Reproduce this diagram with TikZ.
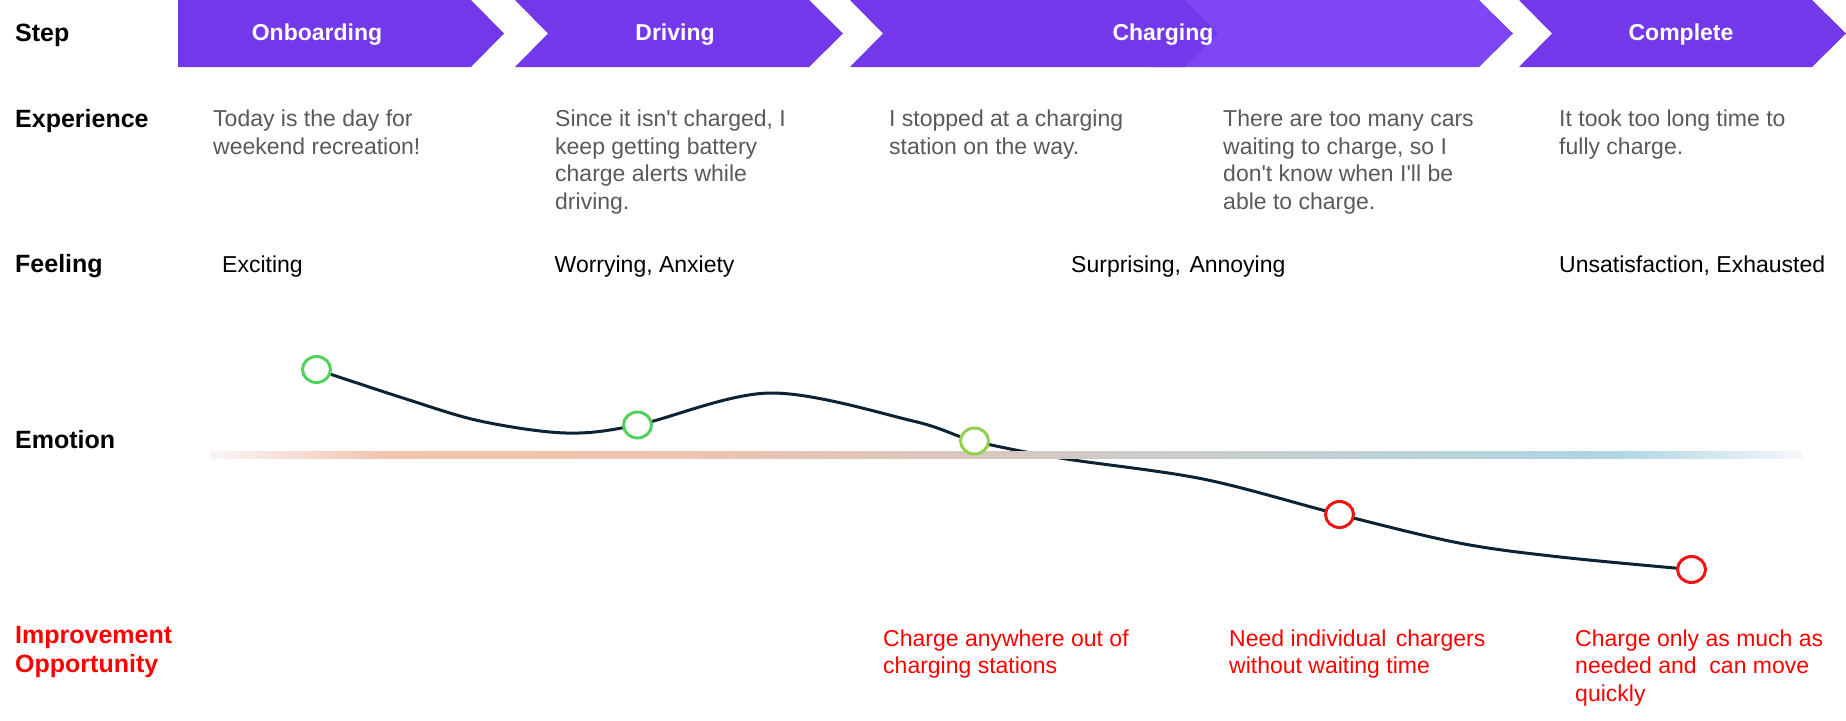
\documentclass[tikz,border=0pt]{standalone}
\usepackage{fontspec}
\setmainfont{Liberation Sans}[Ligatures=TeXOff]
\usetikzlibrary{shapes.geometric,backgrounds}
\definecolor{chev}{RGB}{115,56,234}
\definecolor{chevl}{RGB}{126,70,245}
\definecolor{exgray}{RGB}{89,89,89}
\definecolor{curvec}{RGB}{13,34,51}
\definecolor{gA}{RGB}{80,210,92}
\definecolor{gB}{RGB}{146,208,80}
\definecolor{rC}{RGB}{240,20,20}
\definecolor{impred}{RGB}{255,0,0}
\definecolor{barA}{RGB}{250,244,246}
\definecolor{barB}{RGB}{242,196,174}
\definecolor{barC}{RGB}{238,195,176}
\definecolor{barD}{RGB}{220,198,188}
\definecolor{barE}{RGB}{204,203,200}
\definecolor{barF}{RGB}{190,208,212}
\definecolor{barG}{RGB}{173,213,227}
\definecolor{barH}{RGB}{214,233,242}
\definecolor{barI}{RGB}{246,246,252}
\pgfdeclarehorizontalshading{emobar}{100bp}{color(0bp)=(barA); color(25bp)=(barA); color(30.5bp)=(barB); color(40bp)=(barC); color(47.5bp)=(barD); color(54bp)=(barE); color(61bp)=(barF); color(69bp)=(barG); color(72.5bp)=(barH); color(75bp)=(barI); color(100bp)=(barI)}
\newcommand{\fl}{\rule{0pt}{20pt}}
\begin{document}
\begin{tikzpicture}[x=1pt,y=-1pt,
  lbl/.style={anchor=base west,inner sep=0pt,font=\fontsize{25}{29}\selectfont\bfseries},
  steptxt/.style={anchor=base,inner sep=0pt,text=white,font=\fontsize{23}{28}\selectfont\bfseries},
  txt/.style={anchor=north west,inner sep=0pt,align=left,font=\fontsize{23}{27.5}\selectfont},
  extxt/.style={txt,text=exgray},
  imptxt/.style={txt,text=impred},
  dot/.style={ellipse,draw,fill=white,line width=3pt,minimum width=28pt,minimum height=26pt,inner sep=0pt}]
\useasboundingbox (0,0) rectangle (1846,720);
% chevrons
\fill[chevl] (1150,0) -- (1479,0) -- (1513,33.5) -- (1479,67) -- (1150,67) -- cycle;
\fill[chev] (178,0) -- (471,0) -- (504,33.5) -- (471,67) -- (178,67) -- cycle;
\fill[chev] (515,0) -- (809,0) -- (843,33.5) -- (809,67) -- (515,67) -- (548,33.5) -- cycle;
\fill[chev] (850,0) -- (1185,0) -- (1218,33.5) -- (1185,67) -- (850,67) -- (883,33.5) -- cycle;
\fill[chev] (1519,0) -- (1812,0) -- (1846,33.5) -- (1812,67) -- (1519,67) -- (1552,33.5) -- cycle;
\node[steptxt] (s1) at (317,40) {Onboarding};
\node[steptxt] (s2) at (675,40) {Driving};
\node[steptxt] (s3) at (1163,40) {Charging};
\node[steptxt] (s4) at (1681,40) {Complete};
% row labels
\node[lbl] (lstep) at (15,41) {Step};
\node[lbl] (lexp) at (15,127) {Experience};
\node[lbl] (lfeel) at (15,272) {Feeling};
\node[lbl] (lemo) at (15,448) {Emotion};
\node[lbl,text=impred,align=left,anchor=north west] (limp) at (15,623) {\rule{0pt}{20pt}Improvement\\Opportunity};
% experience
\node[extxt] (e1) at (213,106.5) {\fl Today is the day for\\weekend recreation!};
\node[extxt] (e2) at (555,106.5) {\fl Since it isn't charged, I\\keep getting battery\\charge alerts while\\driving.};
\node[extxt] (e3) at (889,106.5) {\fl I stopped at a charging\\station on the way.};
\node[extxt] (e4) at (1223,106.5) {\fl There are too many cars\\waiting to charge, so I\\don't know when I'll be\\able to charge.};
\node[extxt] (e5) at (1559,106.5) {\fl It took too long time to\\fully charge.};
% feelings
\node[txt,anchor=base west] (f1) at (222,272) {Exciting};
\node[txt,anchor=base west] (f2) at (554.5,272) {Worrying, Anxiety};
\node[txt,anchor=base west] (f3) at (1071,272) {Surprising,\hspace{2pt} Annoying};
\node[txt,anchor=base west] (f4) at (1559,272) {Unsatisfaction, Exhausted};
% improvement
\node[imptxt] (i1) at (883,626) {\fl Charge anywhere out of\\charging stations};
\node[imptxt] (i2) at (1229,626) {\fl Need individual\hspace{3pt} chargers\\without waiting time};
\node[imptxt] (i3) at (1575,626) {\fl Charge only as much as\\needed and\ \ can move\\quickly};
% emotion bar
\shade[shading=emobar] (210,451) rectangle (1802,458);
% emotion points
\node[dot,draw=gA] (c1) at (316.5,369.5) {};
\node[dot,draw=gA] (c2) at (637.5,425) {};
\node[dot,draw=gB] (c3) at (974.5,441) {};
\node[dot,draw=rC] (c4) at (1339.5,514.5) {};
\node[dot,draw=rC] (c5) at (1691.5,569.5) {};
\coordinate (m0) at (403,398);
\coordinate (ma) at (480,421);
\coordinate (m1) at (566,433);
\coordinate (m2) at (770,393);
\coordinate (m3) at (913,421);
\coordinate (m4) at (1060,458);
\coordinate (m5) at (1203,479);
\coordinate (m6) at (1459,543);
\coordinate (m7) at (1560,557);
\begin{pgfonlayer}{background}
\draw[curvec,line width=3pt] plot[smooth,tension=0.55] coordinates {(c1) (m0) (ma) (m1) (c2) (m2) (m3) (c3) (m4) (m5) (c4) (m6) (m7) (c5)};
\end{pgfonlayer}
\end{tikzpicture}
\end{document}
